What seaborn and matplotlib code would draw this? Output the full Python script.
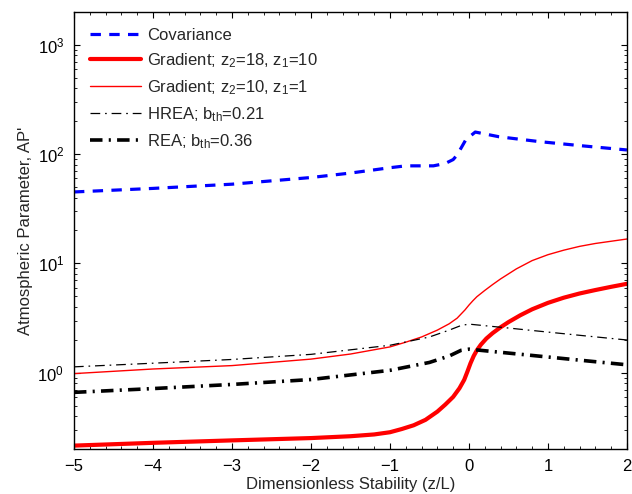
import matplotlib
matplotlib.use("Agg")
import matplotlib.pyplot as plt
from matplotlib.ticker import MultipleLocator, LogLocator
import seaborn as sns

# -----------------------------
# Data
# -----------------------------
cov_x = [-5, -4, -3, -2, -1.5, -1, -0.8, -0.45, -0.3, -0.2, -0.15, -0.04, 0.08, 0.38, 0.89, 1.43, 2]
cov_y = [45, 48.5, 53, 61, 67, 75, 78, 78, 82, 89, 98, 135, 159, 144, 130, 119, 109]

grad_thick_x = [-5, -4, -3, -2, -1.5, -1.2, -1, -0.85, -0.7, -0.55, -0.4, -0.3, -0.2, -0.12,
                -0.06, -0.02, 0.02, 0.06, 0.1, 0.15, 0.22, 0.3, 0.4, 0.5, 0.65, 0.8, 1.0,
                1.2, 1.4, 1.6, 1.8, 2]
grad_thick_y = [0.215, 0.228, 0.24, 0.252, 0.262, 0.272, 0.285, 0.305, 0.33, 0.37, 0.44, 0.51, 0.6, 0.72,
                0.86, 1.02, 1.22, 1.42, 1.6, 1.8, 2.05, 2.3, 2.6, 2.9, 3.35, 3.8, 4.35,
                4.85, 5.3, 5.7, 6.1, 6.5]

grad_thin_x = [-5, -4, -3, -2, -1.5, -1, -0.8, -0.6, -0.4, -0.25, -0.15, -0.05, 0, 0.05, 0.1, 0.2,
               0.3, 0.4, 0.6, 0.8, 1.0, 1.2, 1.4, 1.6, 2]
grad_thin_y = [0.98, 1.08, 1.16, 1.33, 1.48, 1.72, 1.9, 2.12, 2.45, 2.8, 3.15, 3.75, 4.15, 4.55, 4.95, 5.65,
               6.4, 7.2, 8.9, 10.6, 12.0, 13.2, 14.3, 15.2, 16.7]

rea_x = [-5, -4, -3, -2, -1, -0.5, -0.25, -0.1, 0, 0.5, 1, 1.5, 2]
hrea_y = [1.13, 1.22, 1.32, 1.47, 1.78, 2.12, 2.45, 2.7, 2.78, 2.56, 2.35, 2.16, 1.99]
rea_y = [0.66, 0.715, 0.78, 0.865, 1.05, 1.24, 1.42, 1.6, 1.64, 1.51, 1.39, 1.28, 1.18]

LABELS = [
    "Covariance",
    "Gradient; z$_2$=18, z$_1$=10",
    "Gradient; z$_2$=10, z$_1$=1",
    "HREA; b$_{\\mathrm{th}}$=0.21",
    "REA; b$_{\\mathrm{th}}$=0.36",
]

# -----------------------------
# Style
# -----------------------------
sns.set_style("ticks")
plt.rcParams["font.family"] = ["Liberation Sans", "DejaVu Sans"]
plt.rcParams["mathtext.fontset"] = "custom"
plt.rcParams["mathtext.rm"] = "Liberation Sans"
plt.rcParams["mathtext.it"] = "Liberation Sans:italic"
plt.rcParams["lines.scale_dashes"] = False

fig = plt.figure(figsize=(6.32, 4.94), dpi=100)
ax = fig.add_axes([0.117, 0.091, 0.875, 0.885])

sns.lineplot(x=cov_x, y=cov_y, ax=ax, color="#0000ff", linewidth=2.3,
             linestyle=(0, (7.5, 6.0)), label=LABELS[0], estimator=None, errorbar=None)
sns.lineplot(x=grad_thick_x, y=grad_thick_y, ax=ax, color="#ff0000", linewidth=3.0,
             linestyle="-", label=LABELS[1], estimator=None, errorbar=None)
sns.lineplot(x=grad_thin_x, y=grad_thin_y, ax=ax, color="#ff0000", linewidth=1.0,
             linestyle="-", label=LABELS[2], estimator=None, errorbar=None)
sns.lineplot(x=rea_x, y=hrea_y, ax=ax, color="black", linewidth=0.9,
             linestyle=(0, (7.0, 3.5, 1.2, 3.5)), label=LABELS[3], estimator=None, errorbar=None)
sns.lineplot(x=rea_x, y=rea_y, ax=ax, color="black", linewidth=2.6,
             linestyle=(0, (9.0, 4.5, 1.5, 4.5)), label=LABELS[4], estimator=None, errorbar=None)

ax.set_yscale("log")
ax.set_xlim(-5, 2)
ax.set_ylim(0.2, 2000)

ax.xaxis.set_major_locator(MultipleLocator(1))
ax.xaxis.set_minor_locator(MultipleLocator(0.2))
ax.yaxis.set_major_locator(LogLocator(base=10, numticks=10))
ax.yaxis.set_minor_locator(LogLocator(base=10, subs=range(2, 10), numticks=20))

ax.tick_params(which="both", direction="in", top=True, right=True, labelsize=12, colors="black")
ax.tick_params(which="major", length=4, width=0.8)
ax.tick_params(which="minor", length=2, width=0.6)
ax.tick_params(axis="x", which="major", pad=7)
ax.tick_params(axis="y", which="major", pad=7)
for sp in ax.spines.values():
    sp.set_linewidth(1.0)
    sp.set_color("black")

ax.set_xlabel("Dimensionless Stability (z/L)", fontsize=12, labelpad=2)
ax.set_ylabel("Atmospheric Parameter, AP'", fontsize=12, labelpad=3)

ax.legend(loc="upper left", bbox_to_anchor=(0.0, 1.0), frameon=False, fontsize=12,
          handlelength=3.1, handletextpad=0.35, labelspacing=0.5, borderaxespad=0.55)

plt.savefig("out.png", dpi=100)
plt.close()
